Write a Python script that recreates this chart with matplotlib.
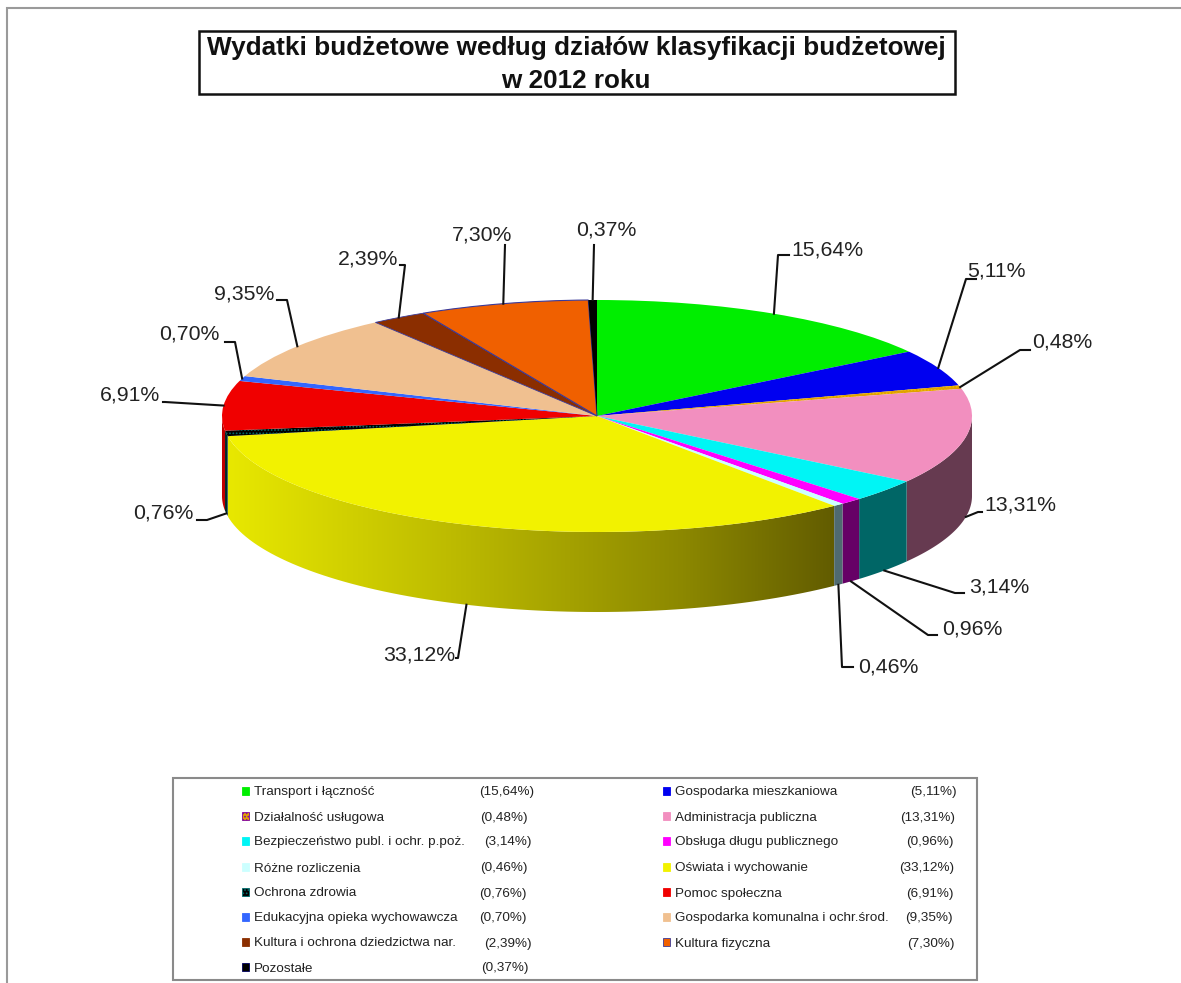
import numpy as np
import matplotlib
matplotlib.use('Agg')
import matplotlib.pyplot as plt
from matplotlib.patches import Polygon, Rectangle

plt.rcParams['font.family'] = ['Liberation Sans', 'DejaVu Sans']
plt.rcParams['hatch.linewidth'] = 0.8

names = ['Transport i łączność', 'Gospodarka mieszkaniowa', 'Działalność usługowa',
         'Administracja publiczna', 'Bezpieczeństwo publ. i ochr. p.poż.',
         'Obsługa długu publicznego', 'Różne rozliczenia', 'Oświata i wychowanie',
         'Ochrona zdrowia', 'Pomoc społeczna', 'Edukacyjna opieka wychowawcza',
         'Gospodarka komunalna i ochr.środ.', 'Kultura i ochrona dziedzictwa nar.',
         'Kultura fizyczna', 'Pozostałe']
values = [15.64, 5.11, 0.48, 13.31, 3.14, 0.96, 0.46, 33.12, 0.76, 6.91, 0.70, 9.35, 2.39, 7.30, 0.37]
value_labels = ['15,64%', '5,11%', '0,48%', '13,31%', '3,14%', '0,96%', '0,46%', '33,12%',
                '0,76%', '6,91%', '0,70%', '9,35%', '2,39%', '7,30%', '0,37%']

top_colors = ['#00ee00', '#0000f0', '#e0a000', '#f28fbf', '#00f5f5', '#ff00ff', '#ccffff', '#f2f200',
              '#000000', '#f00000', '#3366ff', '#f0c090', '#8b2e00', '#f06000', '#000000']
side_colors = {3: '#663a50', 4: '#006666', 5: '#660066', 6: '#4f6a70', 8: '#002a2a', 9: '#c00000'}

# pie geometry in picture pixels
W, H = 1181, 983
cx, cy, rx, ry, depth = 597, 416, 375, 116, 80

# elbow and text position for each leader line
elbows = [(778, 255), (966, 279), (1020, 350), (978, 512), (955, 593), (928, 635), (842, 667), (458, 658),
          (207, 520), (165, 402), (235, 342), (287, 300), (405, 265), (505, 245), (594, 245)]
line_ends = [(789, 255), (976, 279), (1030, 350), (982, 512), (964, 593), (937, 635), (853, 667), (456, 658),
             (197, 520), (163, 402), (225, 342), (277, 300), (400, 265), (505, 245), (594, 245)]
text_pos = [(791, 250, 'left'), (967, 271, 'left'), (1032, 342, 'left'), (984, 505, 'left'), (969, 587, 'left'),
            (942, 629, 'left'), (858, 667, 'left'), (455, 655, 'right'), (193, 513, 'right'), (160, 395, 'right'),
            (220, 334, 'right'), (274, 294, 'right'), (398, 259, 'right'), (482, 235, 'center'), (606, 230, 'center')]

# legend rows
legend_rows = [791, 816, 841, 867, 892, 917, 942, 967]
legend_pct_x = [479, 910, 480, 900, 484, 906, 480, 899, 479, 906, 479, 905, 484, 907, 481]

fig = plt.figure(figsize=(W / 100, H / 100), dpi=100, facecolor='white')

# pie axes: unit circle squashed to the ellipse
ax = fig.add_axes([0, 0, 1, 1])
wedges, _ = ax.pie(values, startangle=90, counterclock=False, radius=1,
                   wedgeprops={'linewidth': 0})
ax.set_aspect('auto')
wedges[2].set(hatch='.....', edgecolor='#f2c000', linewidth=0)
wedges[8].set(hatch='.....', edgecolor='#007070', linewidth=0)
wedges[13].set(edgecolor='#3a3a9a', linewidth=0.8)
wedges[12].set(edgecolor='#3a3a9a', linewidth=0.6)
for w, c in zip(wedges, top_colors):
    w.set_facecolor(c)

fractions = np.array(values) / sum(values) * 360
ends = np.cumsum(fractions)
starts = ends - fractions
mids = (starts + ends) / 2
d = depth / ry


def side_points(a0, a1):
    t = np.radians(np.linspace(a0, a1, 80))
    x = np.sin(t)
    y = np.cos(t)
    return np.column_stack([np.r_[x, x[::-1]], np.r_[y, y[::-1] - d]])


# side wall, only the front half shows
for i in range(len(values)):
    a0, a1 = max(starts[i], 90), min(ends[i], 270)
    if a1 <= a0:
        continue
    if i == 7:
        poly = Polygon(side_points(a0, a1), closed=True, facecolor='none', edgecolor='none')
        ax.add_patch(poly)
        stops = np.array([[232, 232, 0], [185, 183, 0], [140, 136, 0], [98, 92, 0]]) / 255
        pos = np.linspace(0, 1, 256)
        grad = np.stack([np.interp(pos, [0, 0.4, 0.75, 1], stops[:, k]) for k in range(3)], axis=1)[None, :, :]
        xa, xb = np.sin(np.radians(a1)), np.sin(np.radians(a0))
        im = ax.imshow(grad, extent=(xa, xb, -1 - d, 1), aspect='auto', zorder=0.5)
        im.set_clip_path(poly)
    else:
        ax.add_patch(Polygon(side_points(a0, a1), closed=True, facecolor=side_colors[i],
                             edgecolor='none', zorder=0.6))

ax.set_xlim(-cx / rx, (W - cx) / rx)
ax.set_ylim((cy - H) / ry, cy / ry)
ax.set_axis_off()

# overlay in pixels for frame, title, labels and legend
ov = fig.add_axes([0, 0, 1, 1], facecolor='none')
ov.set_xlim(0, W)
ov.set_ylim(H, 0)
ov.set_axis_off()

ov.plot([7, 7, W], [H, 8, 8], color='#9a9a9a', lw=1.5, solid_joinstyle='miter')

ov.add_patch(Rectangle((199, 31), 756, 63, facecolor='white', edgecolor='#111111', lw=1.8))
ov.text(576, 55, 'Wydatki budżetowe według działów klasyfikacji budżetowej',
        ha='center', va='baseline', fontsize=18.85, fontweight='bold', color='#111111')
ov.text(576, 88, 'w 2012 roku', ha='center', va='baseline', fontsize=18.85, fontweight='bold', color='#111111')

for i, m in enumerate(mids):
    t = np.radians(m)
    ax0 = cx + rx * np.sin(t)
    ay0 = cy - ry * np.cos(t)
    if 90 < m < 270:
        ay0 += depth
    ov.plot([ax0, elbows[i][0], line_ends[i][0]], [ay0, elbows[i][1], line_ends[i][1]],
            color='#111111', lw=1.5, solid_joinstyle='round')
    tx, ty, ha = text_pos[i]
    ov.text(tx, ty, value_labels[i], ha=ha, va='center', fontsize=15.3, color='#222222')

ov.add_patch(Rectangle((173, 778), 804, 202, facecolor='white', edgecolor='#8a8a8a', lw=1.5))
for i, n in enumerate(names):
    row = legend_rows[i // 2]
    mx, tx = (245, 254) if i % 2 == 0 else (666, 675)
    hatch = {2: '.....', 8: '.....'}.get(i)
    edge = {2: '#8000a0', 8: '#007070', 13: '#3a3a9a', 14: '#000060'}.get(i, top_colors[i])
    ov.add_patch(Rectangle((mx - 3.5, row - 4), 7, 8, facecolor=top_colors[i], edgecolor=edge, lw=0.6, hatch=hatch))
    ov.text(tx, row + 4.5, n, ha='left', va='baseline', fontsize=9.7, color='#222222')
    ov.text(legend_pct_x[i], row + 4.5, '(' + value_labels[i] + ')', ha='left', va='baseline', fontsize=9.7, color='#222222')

fig.savefig('out.png', dpi=100, facecolor='white')
